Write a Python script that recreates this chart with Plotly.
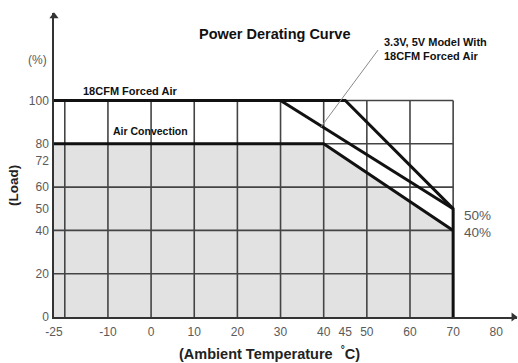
import plotly.graph_objects as go

# Axis ticks (the axis is broken on the left: its origin is labelled -25)
x_tick_vals = [-10, 0, 10, 20, 30, 40, 45, 50, 60, 70, 80]
y_tick_vals = [0, 20, 40, 50, 60, 72, 80, 100]
x_origin_label = "-25"

# Grid lines of the chart box
grid_x = [-20, -10, 0, 10, 20, 30, 40, 50, 60, 70]
grid_y = [20, 40, 60, 80, 100]

# Derating curves: ambient temperature (°C) vs load (%)
forced_temp = [-25, 45, 70, 70]
forced_load = [100, 100, 50, 0]
model_temp = [30, 70]
model_load = [100, 50]
conv_temp = [-25, 40, 70]
conv_load = [80, 80, 40]

X_MIN, X_MAX = -22.5, 84.8
Y_MIN, Y_MAX = 0, 140.4
GRID_TOP = 100
GRID_RIGHT = 70

FONT = "Liberation Sans, Arial, sans-serif"
LINE = "#111111"
GRID = "#444444"
TICK = "#5a5a5a"

fig = go.Figure()

# Shaded area under the air-convection curve
fig.add_trace(go.Scatter(
    x=conv_temp, y=conv_load, mode="lines", fill="tozeroy",
    fillcolor="#e2e2e2", line=dict(width=0), hoverinfo="skip",
))

# Grid
gx, gy = [], []
for v in grid_x:
    gx += [v, v, None]
    gy += [0, GRID_TOP, None]
for v in grid_y:
    gx += [-25, GRID_RIGHT, None]
    gy += [v, v, None]
fig.add_trace(go.Scatter(x=gx, y=gy, mode="lines",
                         line=dict(color=GRID, width=1.6), hoverinfo="skip"))

# Curves
for xs, ys in [(forced_temp, forced_load), (model_temp, model_load), (conv_temp, conv_load)]:
    fig.add_trace(go.Scatter(x=xs, y=ys, mode="lines",
                             line=dict(color=LINE, width=3), hoverinfo="skip"))

# Leader line to the 3.3V/5V curve
fig.add_trace(go.Scatter(x=[52.6, 39.2], y=[123.3, 87.3], mode="lines",
                         line=dict(color="#8a8a8a", width=1), hoverinfo="skip"))

# Arrow heads at the ends of both axes
fig.add_trace(go.Scatter(x=[X_MAX - 0.8], y=[0], mode="markers", cliponaxis=False,
                         marker=dict(symbol="triangle-right", size=8, color="#333"),
                         hoverinfo="skip"))
fig.add_trace(go.Scatter(x=[X_MIN], y=[Y_MAX - 1.5], mode="markers", cliponaxis=False,
                         marker=dict(symbol="triangle-up", size=8, color="#333"),
                         hoverinfo="skip"))

ann = []
def label(x, y, text, size, bold=False, color="#111", xanchor="center", **kw):
    t = f"<b>{text}</b>" if bold else text
    ann.append(dict(x=x, y=y, text=t, showarrow=False, xanchor=xanchor, yanchor="middle",
                    font=dict(family=FONT, size=size, color=color), **kw))

label(28.7, 130.7, "Power Derating Curve", 14.5, bold=True)
label(53.5, 123.6, "3.3V, 5V Model With<br>18CFM Forced Air", 11, bold=True,
      xanchor="left", align="left")
label(-16.2, 104.4, "18CFM Forced Air", 11, bold=True, xanchor="left")
label(-0.2, 85.9, "Air Convection", 10.5, bold=True)
label(72.1, 46.8, "50%", 13.5, color=TICK, xanchor="left")
label(72.1, 38.8, "40%", 13.5, color=TICK, xanchor="left")

# Axis titles
ann.append(dict(xref="paper", yref="paper", x=-0.0346, y=0.845, text="(%)", showarrow=False,
                xanchor="center", yanchor="middle",
                font=dict(family=FONT, size=12, color=TICK)))
ann.append(dict(xref="paper", yref="paper", x=-0.0886, y=0.434, text="<b>(Load)</b>",
                textangle=-90, showarrow=False, xanchor="center", yanchor="middle",
                font=dict(family=FONT, size=13.5, color="#222")))
ann.append(dict(xref="paper", yref="paper", x=0.4665, y=-0.118,
                text="<b>(Ambient Temperature  <sup>°</sup>C)</b>", showarrow=False,
                xanchor="center", yanchor="middle",
                font=dict(family=FONT, size=14.5, color="#222")))

fig.update_layout(
    width=518, height=363,
    margin=dict(l=54, r=1, t=13, b=46),
    paper_bgcolor="white", plot_bgcolor="white",
    showlegend=False,
    annotations=ann,
    xaxis=dict(range=[X_MIN, X_MAX], showgrid=False, zeroline=False,
               showline=True, linecolor="#333", linewidth=1.5,
               tickvals=[X_MIN] + x_tick_vals,
               ticktext=[x_origin_label] + [str(v) for v in x_tick_vals],
               ticks="", ticklabelstandoff=3,
               tickfont=dict(family=FONT, size=12, color=TICK)),
    yaxis=dict(range=[Y_MIN, Y_MAX], showgrid=False, zeroline=False,
               showline=True, linecolor="#333", linewidth=1.5,
               tickvals=y_tick_vals, ticks="", ticklabelstandoff=1,
               tickfont=dict(family=FONT, size=12, color=TICK)),
)

fig.write_html("out.html")
